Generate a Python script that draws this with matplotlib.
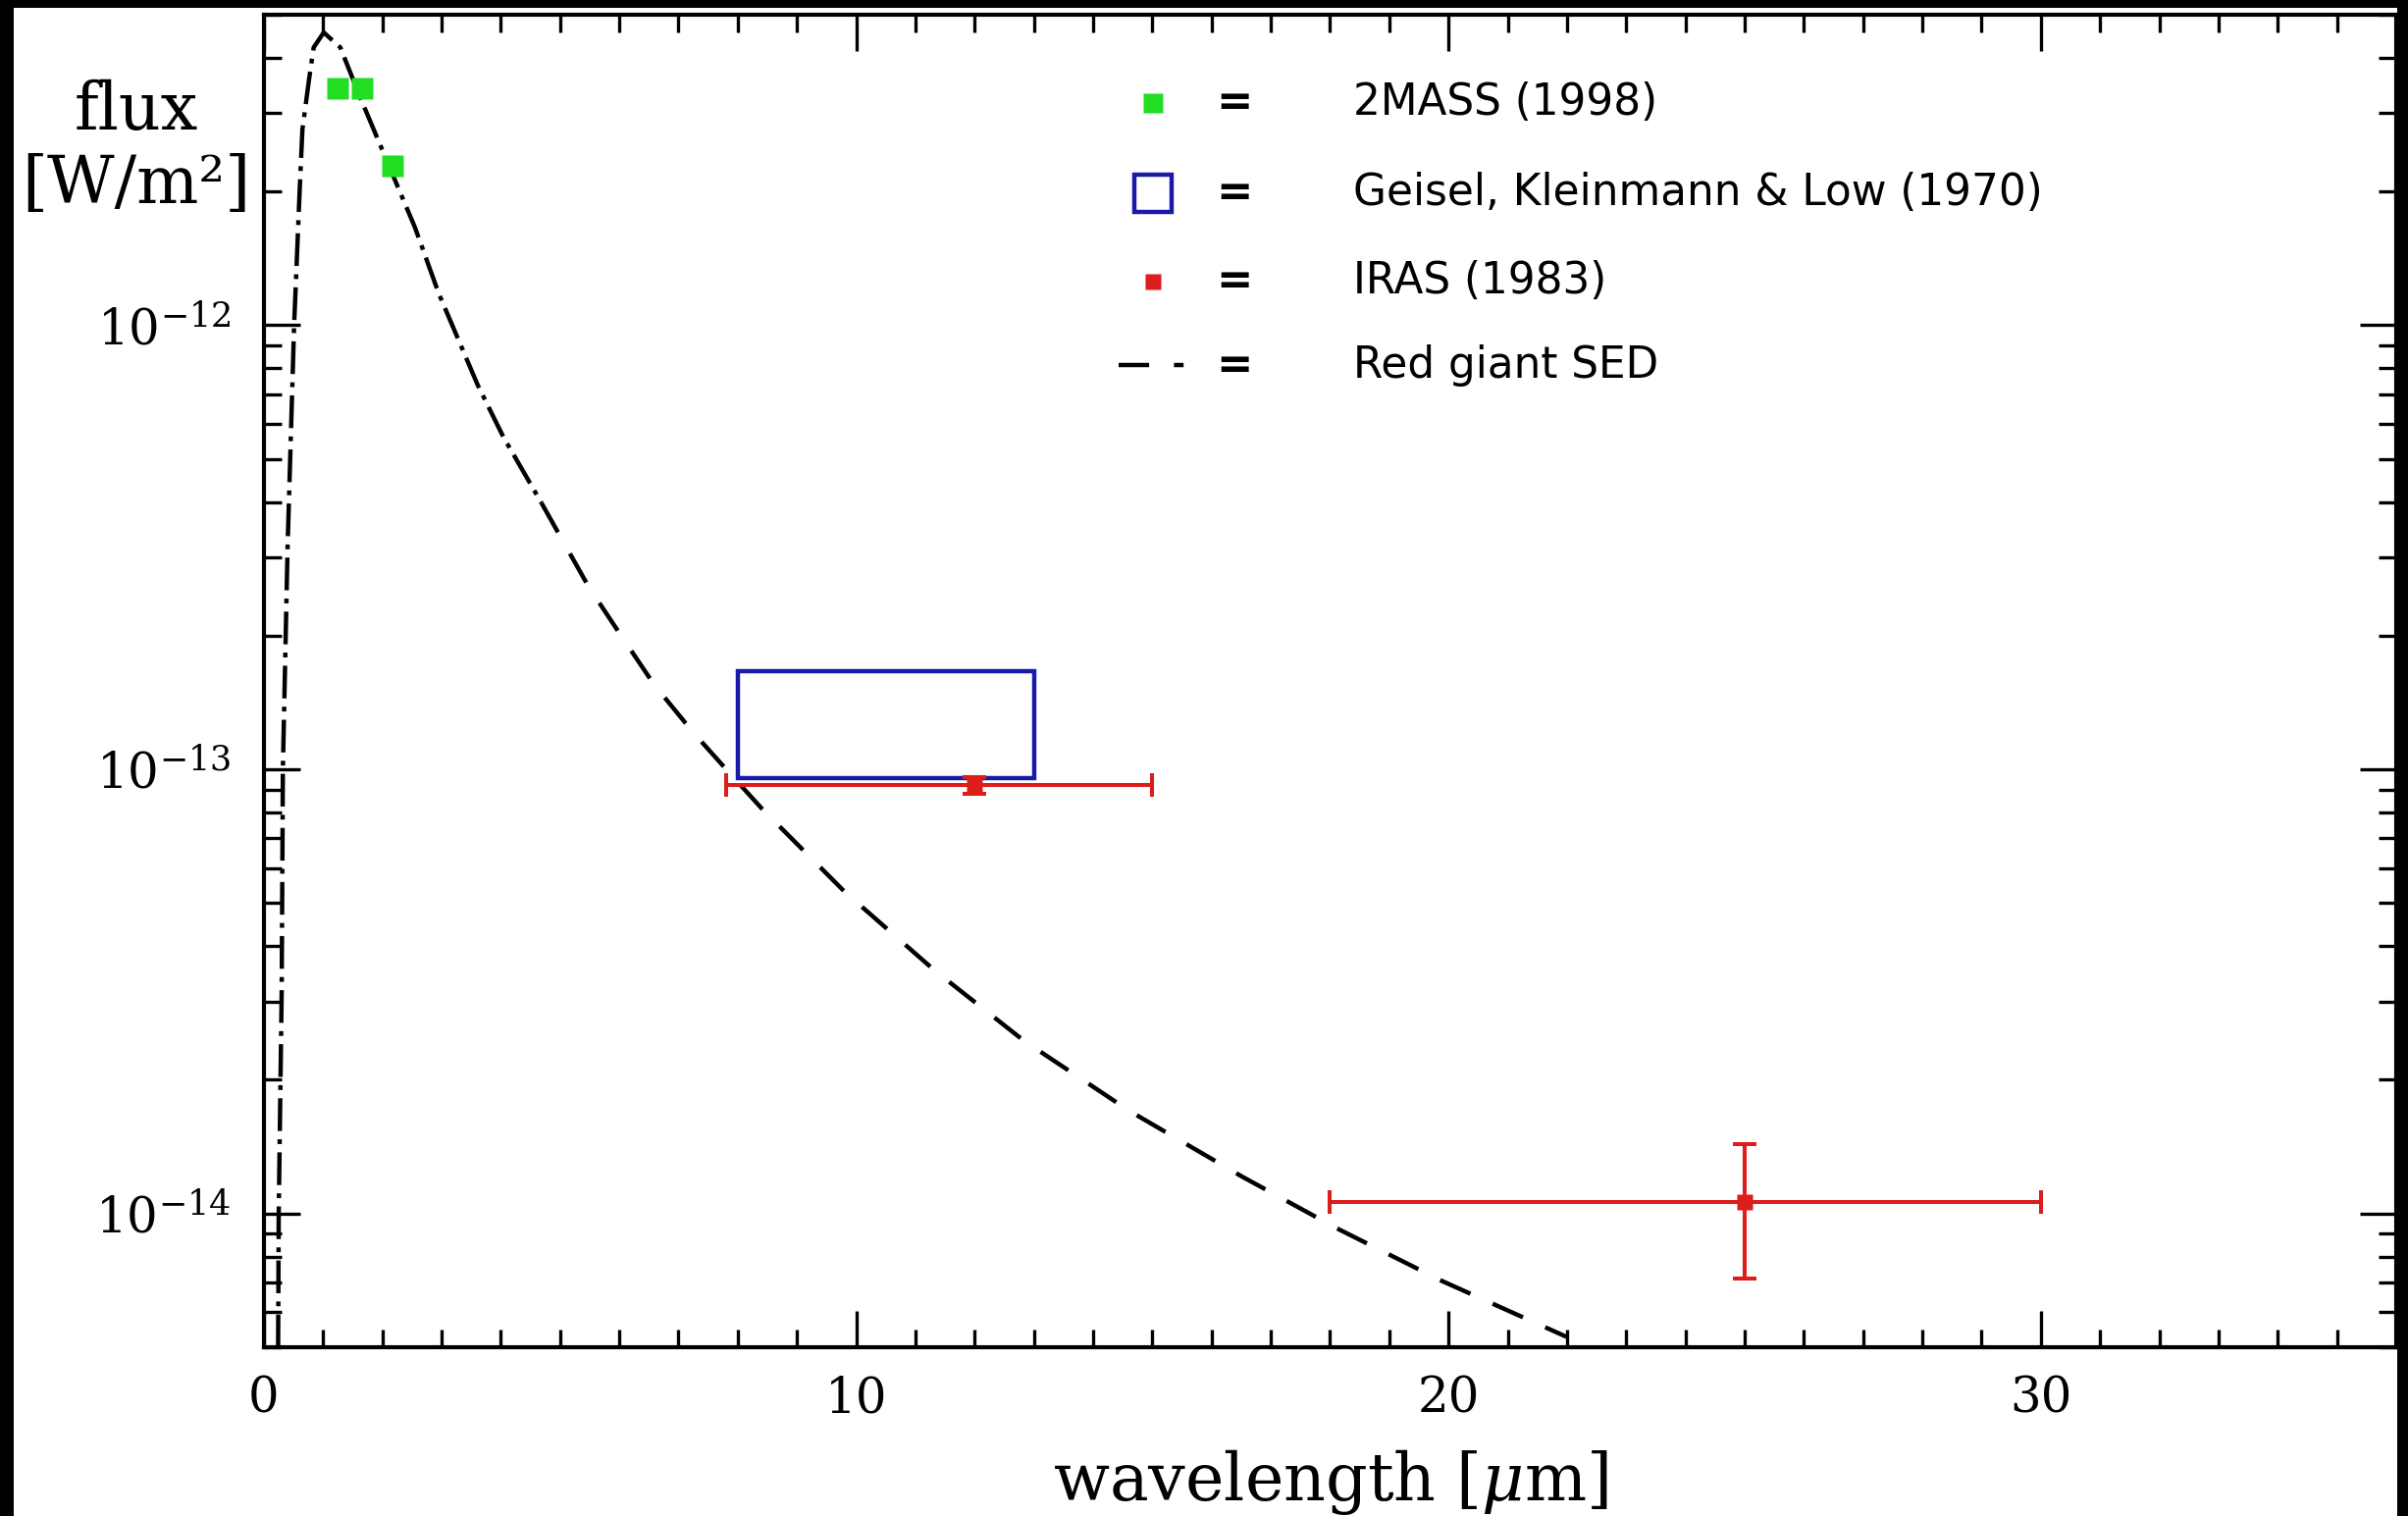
import numpy as np
import matplotlib.pyplot as plt
from matplotlib.patches import Rectangle
from matplotlib.ticker import MultipleLocator, FixedLocator, NullFormatter

plt.rcParams['font.family'] = 'DejaVu Serif'
plt.rcParams['mathtext.fontset'] = 'dejavuserif'

# red giant SED (wavelength in micron, flux in W/m^2)
sed_wl = [0.24, 0.25, 0.30, 0.32, 0.40, 0.51, 0.60, 0.65, 0.76, 0.84,
          1.01, 1.29, 1.62, 2.09, 2.55, 2.95, 3.61, 4.04, 4.69, 5.48,
          6.03, 6.59, 7.25, 7.88, 8.41, 9.80, 11.32, 12.83, 14.62, 16.52,
          18.11, 19.88, 21.99]
sed_flux = [5.0e-15, 1.0e-14, 3.16e-14, 1.0e-13, 3.18e-13, 1.0e-12, 1.96e-12, 2.76e-12, 3.56e-12, 4.22e-12,
            4.56e-12, 4.22e-12, 3.27e-12, 2.32e-12, 1.66e-12, 1.18e-12, 7.33e-13, 5.61e-13, 3.97e-13, 2.58e-13,
            2.00e-13, 1.55e-13, 1.21e-13, 9.75e-14, 8.15e-14, 5.31e-14, 3.53e-14, 2.45e-14, 1.70e-14, 1.21e-14,
            9.27e-15, 7.06e-15, 5.28e-15]
dashdot_until = 4.69  # curve is dash-dot up to here, dashed after

# 2MASS (1998)
mass_wl = [1.25, 1.65, 2.17]
mass_flux = [3.42e-12, 3.42e-12, 2.29e-12]

# Geisel, Kleinmann & Low (1970) box
geisel_wl = [8.0, 13.0]
geisel_flux = [9.55e-14, 1.66e-13]

# IRAS (1983)
iras_wl = [12.0, 25.0]
iras_flux = [9.2e-14, 1.06e-14]
iras_wl_lo = [7.8, 18.0]
iras_wl_hi = [15.0, 30.0]
iras_flux_lo = [8.8e-14, 7.15e-15]
iras_flux_hi = [9.6e-14, 1.435e-14]

legend_labels = ["2MASS (1998)", "Geisel, Kleinmann & Low (1970)", "IRAS (1983)", "Red giant SED"]

y_ticks = [1e-14, 1e-13, 1e-12]
y_minor = [m * 10.0 ** e for e in (-15, -14, -13, -12) for m in range(2, 10)]

green = '#22dd22'
blue = '#1a1aa8'
red = '#dd1c1c'

fig = plt.figure(figsize=(24.54, 15.45), dpi=100, facecolor='black')
fig.add_artist(Rectangle((0.0057, 0), 0.9898, 0.9948, transform=fig.transFigure,
                         facecolor='white', edgecolor='none', zorder=-1))
ax = fig.add_axes([0.1096, 0.1113, 0.8855, 0.8790])
ax.set_yscale('log')

wl = np.array(sed_wl)
fl = np.array(sed_flux)
k = np.searchsorted(wl, dashdot_until)
ax.plot(wl[:k + 1], fl[:k + 1], color='black', lw=3.2, dashes=(7.5, 1.9, 1.1, 1.9))
ax.plot(wl[k:], fl[k:], color='black', lw=3.2, dashes=(7.6, 5.6))

ax.add_patch(Rectangle((geisel_wl[0], geisel_flux[0]), geisel_wl[1] - geisel_wl[0],
                       geisel_flux[1] - geisel_flux[0], fill=False, edgecolor=blue, lw=3.2, zorder=3))

ax.plot(mass_wl, mass_flux, 's', color=green, ms=16.5, mec='none', zorder=4)

w = np.array(iras_wl)
f = np.array(iras_flux)
xerr = [w - np.array(iras_wl_lo), np.array(iras_wl_hi) - w]
yerr = [f - np.array(iras_flux_lo), np.array(iras_flux_hi) - f]
ax.errorbar(w, f, xerr=xerr, yerr=yerr, fmt='s', color=red, ms=12, mec='none',
            ecolor=red, elinewidth=2.9, capsize=8.5, capthick=2.9, zorder=5)

ax.set_xlim(0, 36)
ax.set_ylim(5e-15, 5e-12)

# legend drawn by hand: marker  =  label
rows_y = [0.934, 0.866, 0.800, 0.737]
ax.plot([0.417], [rows_y[0]], 's', ms=15, color=green, mec='none', transform=ax.transAxes)
ax.plot([0.417], [rows_y[1]], 's', ms=27, mfc='none', mec=blue, mew=3.2, transform=ax.transAxes)
ax.plot([0.417], [rows_y[2]], 's', ms=12, color=red, mec='none', transform=ax.transAxes)
ax.plot([0.401, 0.434], [rows_y[3], rows_y[3]], color='black', lw=3.2,
        dashes=(7, 5.7, 2.2, 9), transform=ax.transAxes)
for y, lab in zip(rows_y, legend_labels):
    ax.text(0.455, y, '=', ha='center', va='center', fontsize=32, fontweight='bold',
            family='DejaVu Sans', transform=ax.transAxes)
    ax.text(0.511, y, lab, ha='left', va='center', fontsize=31.5, family='DejaVu Sans',
            transform=ax.transAxes)

ax.xaxis.set_major_locator(MultipleLocator(10))
ax.xaxis.set_minor_locator(MultipleLocator(1))
ax.yaxis.set_major_locator(FixedLocator(y_ticks))
ax.yaxis.set_minor_locator(FixedLocator(y_minor))
ax.yaxis.set_minor_formatter(NullFormatter())
ax.tick_params(which='both', direction='in', top=True, right=True, width=2.4, labelsize=36)
ax.tick_params(which='major', length=26.6)
ax.tick_params(which='minor', length=13)
ax.tick_params(axis='y', pad=24)
ax.tick_params(axis='x', pad=20)
for s in ax.spines.values():
    s.set_linewidth(3.0)

ax.set_xlabel(r'wavelength [$\mu$m]', fontsize=48, va='center')
ax.xaxis.set_label_coords(0.5, -0.101)
ax.set_ylabel('flux\n[W/m²]', rotation=0, fontsize=48, ha='center', va='center', linespacing=1.2)
ax.yaxis.set_label_coords(-0.060, 0.900)

fig.savefig('out.png', dpi=100, facecolor=fig.get_facecolor())
